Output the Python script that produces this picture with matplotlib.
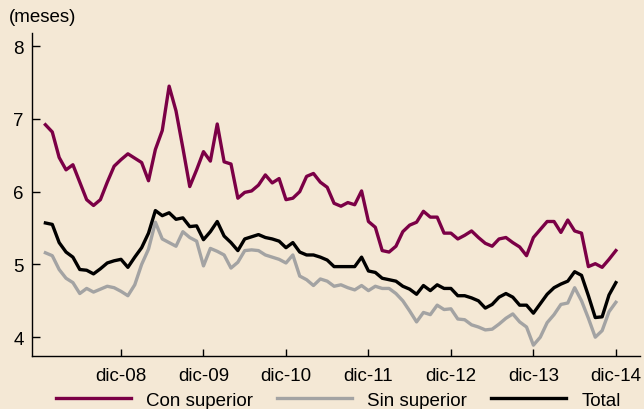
import matplotlib
matplotlib.use("Agg")
import matplotlib.pyplot as plt
import numpy as np

# Datos mensuales ene-08 .. dic-14 (meses)
con_superior = [
    6.92, 6.82, 6.47, 6.30, 6.37, 6.13, 5.89, 5.81, 5.89, 6.13, 6.35, 6.44,
    6.52, 6.46, 6.40, 6.15, 6.58, 6.84, 7.45, 7.11, 6.60, 6.07, 6.30, 6.55,
    6.42, 6.93, 6.41, 6.38, 5.91, 5.99, 6.01, 6.09, 6.23, 6.12, 6.18, 5.89,
    5.91, 6.00, 6.21, 6.25, 6.13, 6.06, 5.84, 5.80, 5.85, 5.82, 6.01, 5.59,
    5.51, 5.19, 5.17, 5.25, 5.45, 5.54, 5.58, 5.73, 5.65, 5.65, 5.43, 5.43,
    5.35, 5.40, 5.46, 5.37, 5.29, 5.25, 5.35, 5.37, 5.30, 5.24, 5.12, 5.37,
    5.48, 5.59, 5.59, 5.44, 5.61, 5.46, 5.43, 4.97, 5.01, 4.96, 5.07, 5.19,
]
sin_superior = [
    5.16, 5.12, 4.93, 4.81, 4.75, 4.60, 4.67, 4.62, 4.66, 4.70, 4.68, 4.63,
    4.57, 4.72, 5.00, 5.21, 5.58, 5.35, 5.30, 5.25, 5.45, 5.37, 5.32, 4.98,
    5.22, 5.18, 5.13, 4.95, 5.03, 5.19, 5.20, 5.19, 5.13, 5.10, 5.07, 5.02,
    5.13, 4.84, 4.79, 4.71, 4.80, 4.77, 4.70, 4.72, 4.68, 4.65, 4.71, 4.64,
    4.70, 4.67, 4.67, 4.60, 4.50, 4.36, 4.21, 4.34, 4.31, 4.44, 4.38, 4.39,
    4.25, 4.24, 4.17, 4.14, 4.10, 4.11, 4.18, 4.26, 4.32, 4.21, 4.14, 3.89,
    4.00, 4.20, 4.31, 4.45, 4.47, 4.68, 4.50, 4.26, 4.00, 4.09, 4.35, 4.48,
]
total = [
    5.57, 5.55, 5.30, 5.17, 5.10, 4.93, 4.92, 4.87, 4.94, 5.02, 5.05, 5.07,
    4.96, 5.10, 5.23, 5.43, 5.74, 5.67, 5.71, 5.62, 5.64, 5.52, 5.53, 5.34,
    5.45, 5.59, 5.39, 5.30, 5.19, 5.35, 5.38, 5.41, 5.37, 5.35, 5.32, 5.23,
    5.30, 5.17, 5.13, 5.13, 5.10, 5.06, 4.97, 4.97, 4.97, 4.97, 5.10, 4.91,
    4.89, 4.81, 4.79, 4.77, 4.70, 4.66, 4.59, 4.71, 4.64, 4.72, 4.67, 4.67,
    4.57, 4.57, 4.54, 4.50, 4.40, 4.45, 4.55, 4.60, 4.55, 4.44, 4.44, 4.33,
    4.46, 4.59, 4.68, 4.73, 4.77, 4.90, 4.85, 4.57, 4.27, 4.28, 4.58, 4.75,
]
etiquetas_x = ["dic-08", "dic-09", "dic-10", "dic-11", "dic-12", "dic-13", "dic-14"]
ticks_y = [4, 5, 6, 7, 8]

plt.rcParams["font.family"] = ["Liberation Sans", "DejaVu Sans"]
fondo = "#f4e8d5"

fig = plt.figure(figsize=(6.44, 4.10), dpi=100, facecolor=fondo)
ax = fig.add_axes([0.0497, 0.129, 0.944, 0.788], facecolor=fondo)

meses = np.arange(len(total))
ax.plot(meses, con_superior, color="#7b0046", lw=2.4, label="Con superior")
ax.plot(meses, sin_superior, color="#a3a3a3", lw=2.4, label="Sin superior")
ax.plot(meses, total, color="black", lw=2.4, label="Total")

ax.set_xlim(-1.95, 86.5)
ax.set_ylim(3.74, 8.18)
ax.set_xticks(np.arange(11, len(total), 12))
ax.set_xticklabels(etiquetas_x)
ax.set_yticks(ticks_y)
ax.tick_params(axis="x", direction="in", length=5, width=1, pad=8, labelsize=13.5)
ax.tick_params(axis="y", direction="in", length=6, width=1, pad=6, labelsize=13.5)
for s in ("top", "right"):
    ax.spines[s].set_visible(False)
for s in ("left", "bottom"):
    ax.spines[s].set_linewidth(1)

fig.text(9 / 644, 1 - 18 / 410, "(meses)", fontsize=13.5, va="center", ha="left")

fig.legend(loc="center", bbox_to_anchor=(0.525, 1 - 401 / 410), ncol=3,
           frameon=False, fontsize=13.5, handlelength=4.0, handletextpad=0.8,
           columnspacing=1.3, borderaxespad=0)

fig.savefig("out.png", dpi=100, facecolor=fondo)
